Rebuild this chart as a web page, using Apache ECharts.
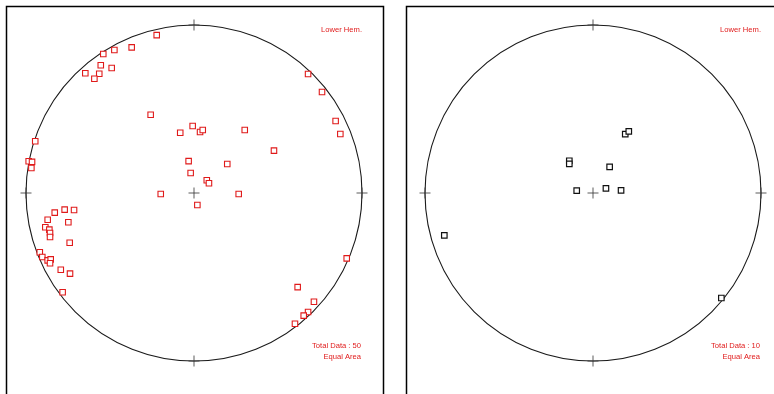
<!DOCTYPE html>
<html>
<head>
<meta charset="utf-8">
<script src="https://cdn.jsdelivr.net/npm/echarts@6/dist/echarts.min.js"></script>
<style>
  html, body { margin: 0; padding: 0; background: #fff; }
  #chart { width: 774px; height: 394px; }
</style>
</head>
<body>
<div id="chart"></div>
<script>
// Equal-area net coordinates (east, north), unit radius = primitive circle.
const polesLeft = [
  [-0.222, 0.940], [-0.474, 0.851], [-0.371, 0.867], [-0.540, 0.827], [-0.555, 0.760],
  [-0.490, 0.744], [-0.647, 0.713], [-0.564, 0.710], [-0.593, 0.680], [0.679, 0.708],
  [0.762, 0.601], [0.843, 0.429], [0.871, 0.351], [-0.258, 0.466], [-0.008, 0.399],
  [-0.082, 0.359], [0.036, 0.363], [0.052, 0.375], [0.302, 0.375], [0.476, 0.252],
  [-0.945, 0.308], [-0.984, 0.189], [-0.964, 0.185], [-0.968, 0.149], [-0.032, 0.190],
  [0.198, 0.173], [-0.020, 0.119], [0.076, 0.076], [0.089, 0.058], [-0.198, -0.006],
  [0.266, -0.006], [0.020, -0.071], [-0.829, -0.117], [-0.770, -0.099], [-0.714, -0.101],
  [-0.871, -0.159], [-0.748, -0.174], [-0.885, -0.204], [-0.861, -0.218], [-0.857, -0.238],
  [-0.857, -0.262], [-0.740, -0.296], [-0.918, -0.353], [-0.903, -0.381], [-0.871, -0.401],
  [-0.853, -0.395], [-0.857, -0.418], [-0.793, -0.457], [-0.738, -0.480], [-0.782, -0.591],
  [0.909, -0.389], [0.617, -0.560], [0.714, -0.647], [0.679, -0.708], [0.653, -0.730],
  [0.601, -0.778]
];
const polesRight = [
  [0.192, 0.351], [0.213, 0.367], [-0.141, 0.192], [-0.141, 0.173], [0.099, 0.155],
  [-0.097, 0.014], [0.077, 0.028], [0.167, 0.016], [-0.885, -0.252], [0.764, -0.625]
];
// Cardinal ticks on the primitive circle plus the centre cross.
const crossMarks = [[0, 0], [0, 1], [0, -1], [1, 0], [-1, 0]];
const hemLabel = 'Lower Hem.';
const projLabel = 'Equal Area';
const totalLeft = 50;
const totalRight = 10;

const chart = echarts.init(document.getElementById('chart'), null, { renderer: 'canvas' });

const R = 168;
const centers = [[194, 193], [593, 193]];
const red = '#e01a1a';
const labelFont = '7.6px "Liberation Sans", Arial, sans-serif';

const plusPath = 'path://M0,5L10,5M5,0L5,10';

function netAxes(idx) {
  return { type: 'value', min: -1, max: 1, show: false, gridIndex: idx };
}

function crossSeries(idx) {
  return {
    type: 'scatter', xAxisIndex: idx, yAxisIndex: idx, data: crossMarks,
    symbol: plusPath, symbolSize: 11, silent: true, z: 1,
    itemStyle: { color: 'none', borderColor: '#333', borderWidth: 1 }
  };
}

const option = {
  animation: false,
  grid: centers.map(c => ({ left: c[0] - R, top: c[1] - R, width: 2 * R, height: 2 * R })),
  xAxis: [netAxes(0), netAxes(1)],
  yAxis: [netAxes(0), netAxes(1)],
  polar: centers.map(c => ({ center: c, radius: R })),
  angleAxis: [0, 1].map(i => ({
    polarIndex: i, type: 'value', min: 0, max: 360, startAngle: 90,
    axisLine: { show: true, lineStyle: { color: '#1a1a1a', width: 1.1 } },
    axisTick: { show: false }, axisLabel: { show: false }, splitLine: { show: false }
  })),
  radiusAxis: [0, 1].map(i => ({ polarIndex: i, min: 0, max: 1, show: false })),
  series: [
    crossSeries(0),
    crossSeries(1),
    {
      type: 'scatter', xAxisIndex: 0, yAxisIndex: 0, data: polesLeft,
      symbol: 'rect', symbolSize: 5.5, z: 3,
      itemStyle: { color: '#fff', borderColor: red, borderWidth: 1.1, opacity: 1 }
    },
    {
      type: 'scatter', xAxisIndex: 1, yAxisIndex: 1, data: polesRight,
      symbol: 'rect', symbolSize: 5.5, z: 3,
      itemStyle: { color: '#fff', borderColor: '#111', borderWidth: 1.2, opacity: 1 }
    }
  ],
  graphic: [
    { type: 'rect', shape: { x: 6.5, y: 6.5, width: 377, height: 400 },
      style: { fill: 'none', stroke: '#000', lineWidth: 1.5 }, silent: true },
    { type: 'rect', shape: { x: 406.5, y: 6.5, width: 380, height: 400 },
      style: { fill: 'none', stroke: '#000', lineWidth: 1.5 }, silent: true },
    ...centers.flatMap((c, i) => [
      { type: 'text', x: c[0] + 168, y: c[1] - 163,
        style: { text: hemLabel, fill: red, font: labelFont, align: 'right', verticalAlign: 'middle' } },
      { type: 'text', x: c[0] + 167, y: c[1] + 153,
        style: { text: 'Total Data : ' + (i === 0 ? totalLeft : totalRight), fill: red, font: labelFont, align: 'right', verticalAlign: 'middle' } },
      { type: 'text', x: c[0] + 167, y: c[1] + 164,
        style: { text: projLabel, fill: red, font: labelFont, align: 'right', verticalAlign: 'middle' } }
    ])
  ]
};

chart.setOption(option);
</script>
</body>
</html>
